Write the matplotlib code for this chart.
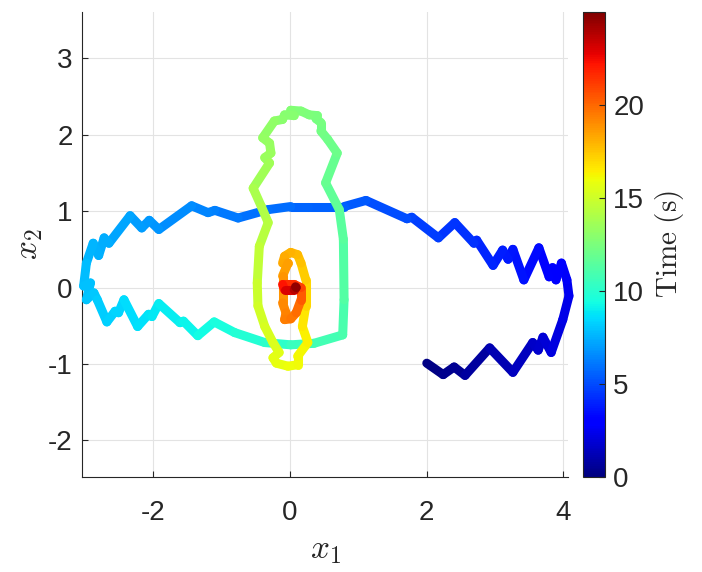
import numpy as np
import matplotlib
matplotlib.use("Agg")
import matplotlib.pyplot as plt
from matplotlib.collections import LineCollection
from matplotlib.colors import Normalize

plt.rcParams['font.family'] = ['Liberation Sans', 'DejaVu Sans']
plt.rcParams['mathtext.fontset'] = 'cm'
plt.rcParams['axes.unicode_minus'] = False

# trayectoria (x1, x2) y tiempo de cada vertice (s)
x1 = [2.00, 2.24, 2.40, 2.56, 2.92, 3.26, 3.55, 3.63, 3.70, 3.82, 3.99, 4.08, 4.05,
      3.97, 3.89, 3.84, 3.79, 3.64, 3.42, 3.26, 3.19, 3.11, 2.97, 2.73, 2.69, 2.41,
      2.17, 1.78, 1.71, 1.11, 0.79, 0.26, 0.01, -0.32, -0.76, -1.10, -1.20, -1.44,
      -1.92, -2.06, -2.17, -2.34, -2.65, -2.72, -2.80, -2.88, -2.98, -3.02, -2.92,
      -2.98, -2.87, -2.82, -2.68, -2.56, -2.51, -2.43, -2.23, -2.07, -2.02, -1.92,
      -1.61, -1.56, -1.35, -1.11, -0.81, -0.37, 0.01, 0.35, 0.77, 0.79, 0.78, 0.72,
      0.52, 0.69, 0.55, 0.45, 0.45, 0.38, 0.40, 0.28, 0.16, 0.01, 0.06, -0.08, -0.11,
      -0.23, -0.40, -0.30, -0.28, -0.37, -0.30, -0.54, -0.42, -0.32, -0.45, -0.48,
      -0.47, -0.37, -0.25, -0.16, -0.25, -0.20, -0.03, 0.11, 0.11, 0.26, 0.18, 0.23,
      0.23, 0.16, 0.11, 0.01, -0.08, -0.11, -0.03, -0.11, -0.11, -0.06, -0.08, 0.01,
      0.09, 0.16, 0.16, 0.06, -0.11, -0.08, 0.06, 0.09, 0.08]
x2 = [-0.99, -1.14, -1.04, -1.15, -0.79, -1.11, -0.72, -0.82, -0.65, -0.85, -0.42, -0.11, 0.10,
      0.32, 0.10, 0.26, 0.14, 0.52, 0.10, 0.50, 0.37, 0.49, 0.29, 0.62, 0.58, 0.85,
      0.65, 0.92, 0.90, 1.14, 1.06, 1.06, 1.06, 1.02, 0.91, 1.01, 0.98, 1.07,
      0.76, 0.88, 0.78, 0.94, 0.58, 0.65, 0.42, 0.58, 0.32, 0.02, 0.06,
      -0.16, -0.07, -0.16, -0.45, -0.31, -0.33, -0.16, -0.51, -0.35, -0.38, -0.21,
      -0.46, -0.44, -0.63, -0.45, -0.59, -0.72, -0.75, -0.73, -0.62, -0.16, 0.63, 1.02,
      1.37, 1.76, 1.94, 2.05, 2.16, 2.21, 2.25, 2.26, 2.31, 2.32, 2.25, 2.26, 2.20,
      2.18, 1.96, 1.89, 1.76, 1.70, 1.63, 1.30, 1.06, 0.85, 0.54, 0.06,
      -0.24, -0.51, -0.72, -0.85, -0.92, -0.99, -1.03, -1.01, -0.90, -0.72, -0.51, -0.24,
      0.10, 0.32, 0.43, 0.46, 0.41, 0.32, 0.32, 0.15, -0.20, -0.33, -0.42, -0.41,
      -0.33, -0.16, 0.00, 0.04, 0.04, -0.03, -0.03, 0.00, 0.01]
tiempo = [0.0, 0.25, 0.4, 0.55, 0.9, 1.25, 1.6, 1.7, 1.8, 1.95, 2.2, 2.45, 2.6,
          2.75, 2.85, 2.95, 3.05, 3.25, 3.45, 3.65, 3.72, 3.8, 3.95, 4.15, 4.2, 4.4,
          4.55, 4.8, 4.85, 5.2, 5.35, 5.6, 5.7, 5.85, 6.05, 6.25, 6.3, 6.45,
          6.75, 6.85, 6.95, 7.05, 7.3, 7.35, 7.45, 7.55, 7.65, 7.8, 7.85,
          7.95, 8.0, 8.05, 8.2, 8.3, 8.35, 8.4, 8.6, 8.7, 8.75, 8.85,
          9.05, 9.1, 9.25, 9.4, 9.65, 10.0, 10.3, 10.6, 10.9, 11.1, 11.4, 11.55,
          11.75, 11.95, 12.1, 12.2, 12.3, 12.35, 12.4, 12.5, 12.6, 12.7, 12.75, 12.85, 12.9,
          13.0, 13.2, 13.3, 13.4, 13.45, 13.5, 13.8, 14.0, 14.15, 14.4, 14.75,
          14.95, 15.15, 15.35, 15.5, 15.6, 15.7, 15.85, 16.0, 16.1, 16.3, 16.5, 16.8,
          17.2, 17.5, 17.7, 17.9, 18.1, 18.25, 18.35, 18.6, 19.0, 19.2, 19.35, 19.5,
          19.7, 20.1, 20.6, 21.2, 21.9, 22.6, 23.4, 24.2, 25.0]

t_max = 25
cb_ticks = [0, 5, 10, 15, 20]
x_ticks = [-2, 0, 2, 4]
y_ticks = [-2, -1, 0, 1, 2, 3]

gris = '#262626'

fig = plt.figure(figsize=(7.02, 5.72), dpi=100)
ax = fig.add_axes([0.1172, 0.1666, 0.6923, 0.8129])
cax = fig.add_axes([0.8309, 0.1666, 0.0309, 0.8129])

pts = np.column_stack([x1, x2])
segs = np.stack([pts[:-1], pts[1:]], axis=1)
t_arr = np.array(tiempo)
t_seg = 0.5 * (t_arr[:-1] + t_arr[1:])
norm = Normalize(0, t_max)
lc = LineCollection(segs, cmap='jet', norm=norm, linewidths=6.5,
                    capstyle='round', joinstyle='round', zorder=3)
lc.set_array(t_seg)
lc.set_clip_on(False)
ax.add_collection(lc)

ax.set_xlim(-3.04, 4.07)
ax.set_ylim(-2.476, 3.61)
ax.set_xticks(x_ticks)
ax.set_yticks(y_ticks)
ax.grid(True, color='#e3e3e3', linewidth=0.8, zorder=0)
ax.set_axisbelow(True)
for s in ['top', 'right']:
    ax.spines[s].set_visible(False)
for s in ['left', 'bottom']:
    ax.spines[s].set_color(gris)
    ax.spines[s].set_linewidth(0.8)
ax.tick_params(direction='in', length=4, width=0.8, colors=gris, labelsize=20)
ax.tick_params(axis='x', pad=17)
ax.tick_params(axis='y', pad=7)
ax.set_xlabel(r'$x_1$', fontsize=24, color=gris, labelpad=6)
ax.set_ylabel(r'$x_2$', fontsize=24, color=gris, labelpad=2)

cb = fig.colorbar(lc, cax=cax)
cb.set_ticks(cb_ticks)
cb.outline.set_edgecolor(gris)
cb.outline.set_linewidth(0.8)
cax.tick_params(direction='in', length=4, width=0.8, colors=gris, labelsize=20, pad=6)
cb.set_label(r'$\mathrm{Time\ (s)}$', fontsize=21, color=gris, labelpad=6)

fig.savefig('out.png', dpi=100)
